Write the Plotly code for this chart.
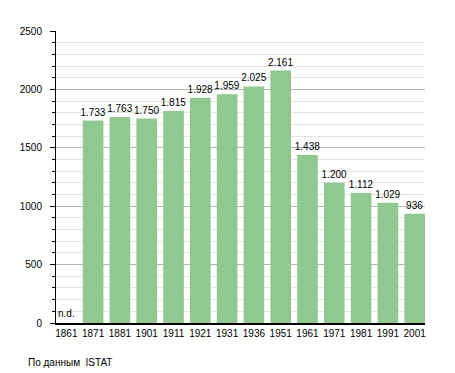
import plotly.graph_objects as go

years = ["1861", "1871", "1881", "1901", "1911", "1921", "1931", "1936",
         "1951", "1961", "1971", "1981", "1991", "2001"]
population = [None, 1733, 1763, 1750, 1815, 1928, 1959, 2025,
              2161, 1438, 1200, 1112, 1029, 936]
missing_label = "n.d."
source_note = "По данным  ISTAT"

def fmt(v):
    return "" if v is None else f"{v:,}".replace(",", ".")

labels = [fmt(v) for v in population]
FONT = "Liberation Sans, Arial, sans-serif"

# page body has an 8px margin; compensate so the plot lands where the reference has it
OFF = 8
PLOT_W = 375.25
PLOT_H = 291.7

fig = go.Figure(go.Bar(
    x=years, y=population, text=labels, textposition="outside",
    constraintext="none",
    textfont=dict(size=10, color="#000000", family=FONT),
    marker=dict(color="#90c990", line=dict(width=0)),
    width=0.77, cliponaxis=False,
))

fig.add_annotation(x=0, y=0, text=missing_label, showarrow=False,
                   yanchor="bottom", yshift=2,
                   font=dict(size=10, family=FONT, color="#000"))
fig.add_annotation(x=(20 - 50) / PLOT_W, y=-(362 - 322.7) / PLOT_H,
                   xref="paper", yref="paper", text=source_note,
                   showarrow=False, xanchor="left", yanchor="middle",
                   font=dict(size=10, family=FONT, color="#000"))

fig.update_layout(
    width=455 - OFF, height=373 - OFF,
    margin=dict(l=50 - OFF, r=29.75, t=31 - OFF, b=50.3, pad=0),
    paper_bgcolor="white", plot_bgcolor="white",
    showlegend=False,
    font=dict(family=FONT, size=10, color="#000"),
    xaxis=dict(
        type="category", range=[-0.385, 13.385],
        showline=True, linecolor="#000", linewidth=2,
        ticks="", showgrid=False, tickfont=dict(size=10),
        fixedrange=True,
    ),
    yaxis=dict(
        range=[0, 2500], dtick=500, showline=True, linecolor="#000", linewidth=1,
        ticks="outside", ticklen=5, tickcolor="#000", tickwidth=1,
        showgrid=True, gridcolor="#b4b4b4", gridwidth=1,
        zeroline=False, tickfont=dict(size=10),
        minor=dict(dtick=100, ticks="outside", ticklen=3, tickcolor="#000",
                   showgrid=True, gridcolor="#e4e4e4", gridwidth=1),
        ticklabelstandoff=6,
    ),
)

fig.write_html("out.html")
